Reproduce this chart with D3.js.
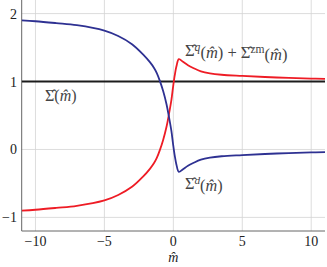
<!DOCTYPE html>
<meta charset="utf-8">
<style>
body { margin: 0; background: white; }
.grid line { stroke: #d4d4d4; stroke-width: 0.8; }
</style>
<svg width="327" height="267"></svg>
<script src="https://d3js.org/d3.v7.min.js"></script>
<script>

// values
var mVals = [-11, -10, -8.5, -7, -5, -4, -3, -2.2, -1.7, -1.4, -1.2, -0.98, -0.74, -0.5, -0.31, -0.14, -0.02, 0.1, 0.22, 0.4, 0.7, 1.06, 1.44, 2, 2.65, 3.5, 5, 7.5, 10, 11];
var sigmaD = [1.90, 1.887, 1.86, 1.83, 1.75, 1.67, 1.55, 1.40, 1.285, 1.20, 1.125, 1.01, 0.86, 0.67, 0.47, 0.27, 0.08, -0.09, -0.22, -0.33, -0.29, -0.24, -0.20, -0.15, -0.12, -0.10, -0.083, -0.059, -0.044, -0.04];
var sigmaQzm = [-0.90, -0.887, -0.86, -0.83, -0.75, -0.67, -0.55, -0.40, -0.285, -0.20, -0.125, -0.01, 0.14, 0.33, 0.53, 0.73, 0.92, 1.09, 1.22, 1.33, 1.29, 1.24, 1.20, 1.15, 1.12, 1.10, 1.083, 1.059, 1.044, 1.04];
var sigmaM = [-11, 11];
var sigma = [1, 1];
var xTicks = [-10, -5, 0, 5, 10];
var yTicks = [-1, 0, 1, 2];

var FONT = "'Liberation Serif', 'DejaVu Serif', serif";

var svg = d3.select("svg"),
    pLeft = 21.7, pRight = 325, pTop = 0, pBottom = 231;

var x = d3.scaleLinear().domain([-11, 11]).range([pLeft, pRight]);
var y = d3.scaleLinear().domain([-1.2, 2.2]).range([pBottom, pTop]);

svg.append("clipPath").attr("id", "clip")
  .append("rect")
    .attr("x", pLeft).attr("y", pTop)
    .attr("width", pRight - pLeft).attr("height", pBottom - pTop);

// grid
var grid = svg.append("g").attr("class", "grid");
grid.selectAll(".gx").data(xTicks).enter().append("line")
    .attr("x1", x).attr("x2", x)
    .attr("y1", pTop).attr("y2", pBottom);
grid.selectAll(".gy").data(yTicks).enter().append("line")
    .attr("x1", pLeft).attr("x2", pRight)
    .attr("y1", y).attr("y2", y);

// tick labels
var fmt = function(d) { return d < 0 ? "\u2212" + Math.abs(d) : d; };
svg.selectAll(".xl").data(xTicks).enter().append("text")
    .attr("x", x).attr("y", 246)
    .attr("text-anchor", "middle")
    .style("font-family", FONT).style("font-size", "14px").style("fill", "#222")
    .text(fmt);
svg.selectAll(".yl").data(yTicks).enter().append("text")
    .attr("x", 17).attr("y", function(d) { return y(d) + 5; })
    .attr("text-anchor", "end")
    .style("font-family", FONT).style("font-size", "14px").style("fill", "#222")
    .text(fmt);

// axes lines
svg.append("line")
    .attr("x1", pLeft).attr("x2", pLeft).attr("y1", pTop).attr("y2", pBottom)
    .attr("stroke", "#666").attr("stroke-width", 1);
svg.append("line")
    .attr("x1", pLeft).attr("x2", pRight).attr("y1", pBottom).attr("y2", pBottom)
    .attr("stroke", "#666").attr("stroke-width", 1);

var plot = svg.append("g").attr("clip-path", "url(#clip)");

function lineFor(xs) {
  return d3.line()
    .x(function(d, i) { return x(xs[i]); })
    .y(function(d) { return y(d); })
    .curve(d3.curveCatmullRom.alpha(0.5));
}

plot.append("path").datum(sigma)
    .attr("d", lineFor(sigmaM))
    .attr("fill", "none").attr("stroke", "#1c1c1c").attr("stroke-width", 1.9);

plot.append("path").datum(sigmaQzm)
    .attr("d", lineFor(mVals))
    .attr("fill", "none").attr("stroke", "#ee1c25").attr("stroke-width", 1.8);

plot.append("path").datum(sigmaD)
    .attr("d", lineFor(mVals))
    .attr("fill", "none").attr("stroke", "#2e3192").attr("stroke-width", 1.8);

// curve labels: parts = [text, style] ; style "i" italic, "s" superscript, "si" italic superscript
function label(xx, yy, w, parts) {
  var t = svg.append("text").attr("x", xx).attr("y", yy)
      .style("font-family", FONT).style("font-size", "14px").style("fill", "#444");
  var up = false;
  parts.forEach(function(p) {
    var s = t.append("tspan").text(p[0]);
    var sup = p[1] && p[1].indexOf("s") >= 0;
    if (sup && !up) { s.attr("dy", "-0.4em"); up = true; }
    else if (!sup && up) { s.attr("dy", "0.4em"); up = false; }
    if (sup) s.style("font-size", "0.7em");
    if (p[1] && p[1].indexOf("i") >= 0) s.style("font-style", "italic");
  });
  var bw = t.node().getBBox().width;
  t.style("font-size", (14 * w / bw) + "px");
  return t;
}

label(45, 101, 32, [["\u03A3\u0302"], ["("], ["m\u0302", "i"], [")"]]);
label(185, 189, 38, [["\u03A3\u0302"], ["d", "si"], ["("], ["m\u0302", "i"], [")"]]);
label(185, 56, 103, [["\u03A3\u0302"], ["q", "si"], ["("], ["m\u0302", "i"], [") + \u03A3\u0302"],
                     ["zm", "s"], ["("], ["m\u0302", "i"], [")"]]);

svg.append("text")
    .attr("x", x(0)).attr("y", 262)
    .attr("text-anchor", "middle")
    .style("font-family", FONT).style("font-size", "14px").style("font-style", "italic").style("fill", "#222")
    .text("m\u0302");

</script>
